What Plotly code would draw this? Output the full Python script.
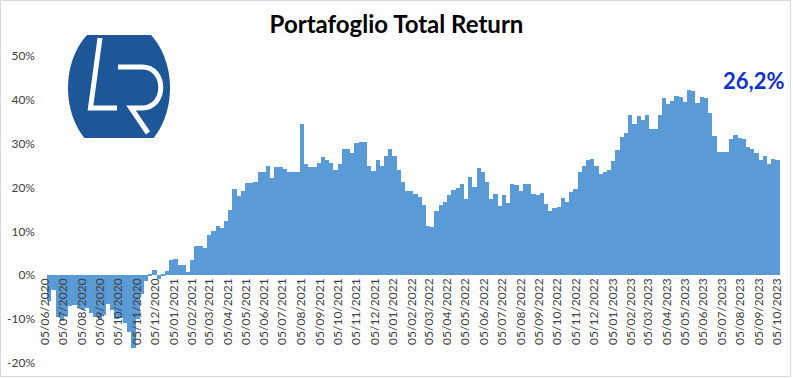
import numpy as np
import pandas as pd
import plotly.graph_objects as go

# ---------------- data (weekly total return, %) ----------------
first_week = "2020-06-12"
ret_2020 = [-5.8, -3.4, -9.5, -10.5, -9.2, -7.0, -6.8, -7.5, -8.0, -7.5, -8.5, -9.5,
            -10.0, -9.0, -6.5, -8.0, -10.0, -9.8, -10.8, -13.0, -16.5, -10.0, -4.3,
            -1.3, 0.3, 1.3, -0.8, 0.3, 0.9]
ret_2021 = [3.4, 3.8, 2.3, 2.3, 0.7, 3.4, 6.6, 6.6, 6.3, 9.2, 10.2, 11.2, 10.8, 12.4,
            14.9, 19.6, 18.1, 19.2, 21.0, 21.0, 21.2, 23.5, 23.5, 24.9, 22.2, 24.7,
            24.7, 24.3, 23.5, 23.5, 23.5, 34.6, 25.3, 24.8, 24.8, 25.6, 26.9, 26.3,
            25.6, 24.1, 25.3, 28.7, 28.8, 27.9, 30.2, 30.4, 30.5, 25.0, 23.7, 26.3,
            24.9, 27.3, 28.9]
ret_2022 = [27.2, 24.1, 21.2, 19.2, 19.2, 18.6, 17.9, 16.1, 11.2, 11.0, 14.6, 16.1,
            16.7, 18.3, 19.4, 19.8, 20.8, 17.5, 22.4, 20.1, 24.5, 23.5, 21.2, 17.4,
            18.6, 15.8, 18.3, 16.5, 20.9, 20.5, 19.2, 20.9, 20.9, 18.6, 18.3, 18.8,
            16.2, 14.6, 15.3, 15.5, 17.6, 16.7, 18.9, 19.7, 23.5, 25.0, 26.2, 26.6,
            25.0, 23.0, 23.5, 24.1, 26.0]
ret_2023 = [28.5, 31.5, 32.5, 36.5, 34.5, 36.3, 35.5, 36.5, 33.4, 33.4, 36.5, 40.5,
            39.1, 39.7, 40.9, 40.6, 39.5, 42.2, 42.0, 39.3, 40.6, 40.4, 37.1, 31.7,
            28.2, 28.0, 28.2, 31.0, 32.0, 31.4, 31.0, 29.3, 28.9, 27.9, 26.3, 27.3,
            25.3, 26.6, 26.2]
values = ret_2020 + ret_2021 + ret_2022 + ret_2023
weeks = pd.date_range(first_week, periods=len(values), freq="7D")

y_tick_vals = [-20, -10, 0, 10, 20, 30, 40, 50]
y_tick_text = ["-20%", "-10%", "0%", "10%", "20%", "30%", "40%", "50%"]
title_text = "Portafoglio Total Return"
last_label = "26,2%"

# ---------------- layout geometry ----------------
W_FIG, H_FIG = 793, 378
L, R, T, B = 42, 785, 56, 363
PW, PH = R - L, B - T


def px_x(px):
    return (px - L) / PW


def px_y(py):
    return (B - py) / PH


BAR_COLOR = "#5B9BD5"
week_ms = 7 * 24 * 3600 * 1000

fig = go.Figure()
fig.add_trace(go.Bar(
    x=weeks, y=values, width=week_ms,
    marker=dict(color=BAR_COLOR, line=dict(width=0)),
    hovertemplate="%{x|%d/%m/%Y}: %{y:.1f}%<extra></extra>",
))

fig.update_layout(
    template="none",
    width=W_FIG, height=H_FIG,
    margin=dict(l=L, r=W_FIG - R, t=T, b=H_FIG - B),
    paper_bgcolor="white", plot_bgcolor="white",
    bargap=0, showlegend=False,
    font=dict(family="Lato, Carlito, Calibri, sans-serif", size=12, color="#404040"),
    title=dict(text="<b>" + title_text + "</b>", x=0.5, xanchor="center",
               y=1 - 25 / H_FIG, yanchor="middle", yref="container",
               font=dict(family="Lato, sans-serif", size=24, color="#000000")),
)

fig.update_xaxes(
    type="date", range=["2020-05-31", "2023-10-18 08:00"],
    tick0="2020-06-05", dtick="M1", tickformat="%d/%m/%Y", tickangle=-90,
    anchor="free", position=px_y(275), showgrid=False, zeroline=False,
    showline=False, ticks="", automargin=False,
    tickfont=dict(size=12, color="#404040"),
)
fig.update_yaxes(
    range=[-20, 50], tickvals=y_tick_vals, ticktext=y_tick_text,
    showgrid=False, zeroline=False, showline=False, ticks="",
    automargin=False, ticklabelstandoff=6,
    tickfont=dict(size=12, color="#404040"),
)

# last value label
fig.add_annotation(
    xref="paper", yref="paper", x=px_x(753), y=px_y(80),
    text="<b>" + last_label + "</b>", showarrow=False,
    xanchor="center", yanchor="middle",
    font=dict(family="Lato, sans-serif", size=22, color="#1030D0"),
)

# ---------------- logo (LR) ----------------
cx, cy, rx, ry = 119, 88, 51, 68
ytop, ybot = 35, 138
ys = np.linspace(ytop, ybot, 60)
half = rx * np.sqrt(np.clip(1 - ((ys - cy) / ry) ** 2, 0, 1))
pts = [(cx + h, yy) for h, yy in zip(half, ys)] + \
      [(cx - h, yy) for h, yy in zip(half[::-1], ys[::-1])]
path = "M " + " L ".join(f"{px_x(a):.5f},{px_y(b):.5f}" for a, b in pts) + " Z"
fig.add_shape(type="path", xref="paper", yref="paper", path=path,
              fillcolor="#1D5797", line=dict(width=0), layer="above")


def P(a, b):
    return f"{px_x(a):.5f},{px_y(b):.5f}"


l_path = f"M {P(100, 38)} L {P(90.5, 108)} L {P(117, 108)}"
r_path = (f"M {P(118, 67)} L {P(142, 67)} C {P(167, 67)} {P(167, 108)} {P(142, 108)} "
          f"L {P(131, 108)} L {P(148, 133)}")
for pth in (l_path, r_path):
    fig.add_shape(type="path", xref="paper", yref="paper", path=pth,
                  line=dict(color="white", width=5), layer="above")

# chart border
fig.add_shape(type="rect", xref="paper", yref="paper",
              x0=px_x(0.5), x1=px_x(790.5), y0=px_y(376.5), y1=px_y(0.5),
              line=dict(color="#D9D9D9", width=1), layer="below")

fig.write_html("out.html", config={"displayModeBar": False},
               post_script="document.body.style.margin='0';document.body.style.overflow='hidden';")
